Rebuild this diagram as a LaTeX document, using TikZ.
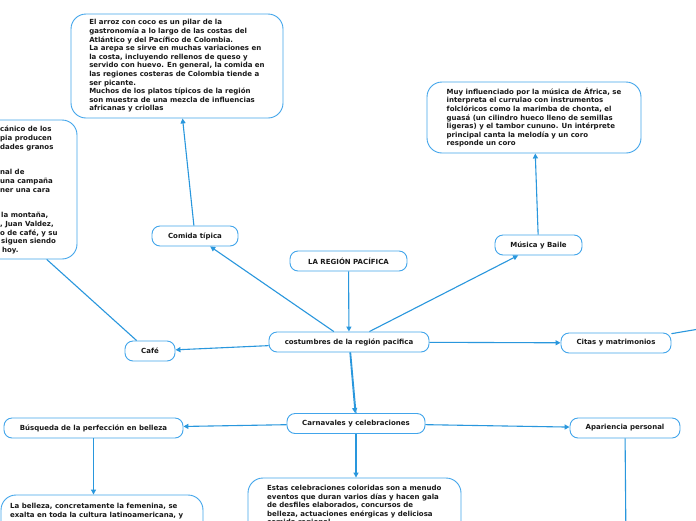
\documentclass[tikz,border=0pt]{standalone}
\usepackage{fontspec}
\setmainfont{DejaVu Sans}
\usetikzlibrary{arrows.meta}
\definecolor{lineblue}{RGB}{41,151,221}
\definecolor{boxblue}{RGB}{66,165,235}
\definecolor{txt}{RGB}{25,25,25}
\begin{document}
\begin{tikzpicture}[x=1pt,y=-1pt,
 every node/.style={font=\bfseries\fontsize{7}{8.6}\selectfont, text=txt},
 pill/.style={draw=boxblue, line width=0.9pt, fill=white, rounded corners=8pt, inner sep=0pt},
 textbox/.style={draw=boxblue, line width=0.9pt, fill=white, rounded corners=15pt, inner sep=0pt, align=left},
 plain/.style={inner sep=0pt, align=left, anchor=north west},
 conn/.style={draw=lineblue, line width=1.1pt, -{Triangle[length=5pt,width=5pt]}},
 link/.style={draw=lineblue, line width=1.1pt},
]
\path[use as bounding box, fill=white] (0,0) rectangle (696,520);

% text boxes
\node[textbox, minimum width=212pt, minimum height=104pt] (comidaT) at (177,66) {El arroz con coco es un pilar de la\\gastronomía a lo largo de las costas del\\Atlántico y del Pacífico de Colombia.\\La arepa se sirve en muchas variaciones en\\la costa, incluyendo rellenos de queso y\\servido con huevo. En general, la comida en\\las regiones costeras de Colombia tiende a\\ser picante.\\Muchos de los platos típicos de la región\\son muestra de una mezcla de influencias\\africanas y criollas};

\node[textbox, minimum width=214pt, minimum height=71pt] (musicaT) at (534,117.5) {Muy influenciado por la música de África, se\\interpreta el currulao con instrumentos\\folclóricos como la marimba de chonta, el\\guasá (un cilindro hueco lleno de semillas\\ligeras) y el tambor cununo. Un intérprete\\principal canta la melodía y un coro\\responde un coro};

\node[textbox, minimum width=117pt, minimum height=139pt] (cafeT) at (18.5,189.5) {};
\node[plain] (cafeTxt) at (0,126) {cánico de los\\pia producen\\dades granos\\\strut\\\strut\\nal de\\una campaña\\ner una cara\\\strut\\\strut\\\hspace{1pt}la montaña,\\, Juan Valdez,\\o de café, y su\\\hspace{1pt}siguen siendo\\\hspace{2pt}hoy.};

\node[textbox, minimum width=213pt, minimum height=90pt] (estas) at (354.5,523) {};
\node[plain] (estasTxt) at (267,485) {Estas celebraciones coloridas son a menudo\\eventos que duran varios días y hacen gala\\de desfiles elaborados, concursos de\\belleza, actuaciones enérgicas y deliciosa\\comida regional.};

\node[textbox, minimum width=202pt, minimum height=90pt] (belleza) at (102,540) {};
\node[plain] (bellezaTxt) at (10,503) {La belleza, concretamente la femenina, se\\exalta en toda la cultura latinoamericana, y};

% small nodes
\node[pill, minimum width=86pt, minimum height=20pt] (comida) at (195,236) {Comida típica};
\node[pill, minimum width=117pt, minimum height=20pt] (region) at (348.5,261) {LA REGIÓN PACÍFICA};
\node[pill, minimum width=87pt, minimum height=20pt] (musica) at (538.5,245) {Música y Baile};
\node[pill, minimum width=160pt, minimum height=20pt] (cost) at (349,342) {costumbres de la región pacifica};
\node[pill, minimum width=50pt, minimum height=20pt] (cafe) at (150,351) {Café};
\node[pill, minimum width=110pt, minimum height=20pt] (citas) at (616,343) {Citas y matrimonios};
\node[pill, minimum width=138pt, minimum height=20pt] (carn) at (356,423.5) {Carnavales y celebraciones};
\node[pill, minimum width=179pt, minimum height=20pt] (busq) at (93.5,428) {Búsqueda de la perfección en belleza};
\node[pill, minimum width=110pt, minimum height=20pt] (apar) at (625,428) {Apariencia personal};

\coordinate (citasOut) at (705,328);
\coordinate (aparOut) at (626,545);

% connectors
\draw[conn] (comida) -- (comidaT);
\draw[conn] (musica) -- (musicaT);
\draw[conn] (region) -- (cost);
\draw[conn] (cost) -- (comida);
\draw[conn] (cost) -- (musica);
\draw[conn] (cost) -- (cafe);
\draw[conn] (cost) -- (citas);
\draw[conn] (cost) -- (carn);
\draw[link] ([xshift=1.6pt]cost.south) -- (carn.north);
\draw[link] (cafe.142) -- (cafeT.-68);
\draw[link] (citas) -- (citasOut);
\draw[conn] (carn) -- (busq);
\draw[conn] (carn) -- (apar);
\draw[conn] (carn) -- (carn |- estas.north);
\draw[conn] (busq) -- (busq |- belleza.north);
\draw[link] (apar) -- (aparOut);
\end{tikzpicture}
\end{document}
